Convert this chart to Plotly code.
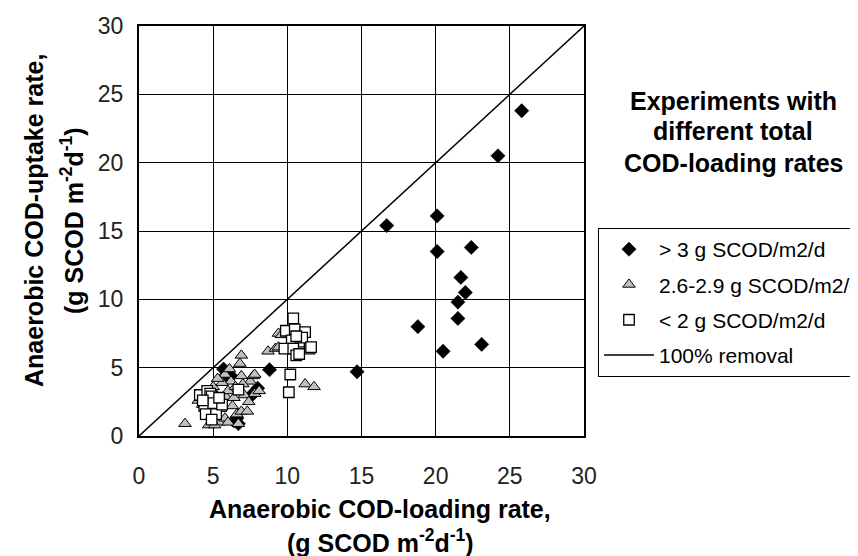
import plotly.graph_objects as go

# Series > 3 g SCOD/m2/d (black diamonds)
hi_x = [25.8, 24.2, 20.1, 16.7, 20.1, 22.4, 21.7, 22.0, 21.5, 21.5, 18.8, 23.1, 20.5, 14.7,
        5.7, 6.2, 7.8, 8.0, 7.6, 6.4, 6.7, 6.6, 8.8, 5.9]
hi_y = [23.8, 20.5, 16.1, 15.4, 13.5, 13.8, 11.6, 10.5, 9.8, 8.6, 8.0, 6.7, 6.2, 4.7,
        4.9, 4.4, 3.2, 3.5, 3.0, 1.1, 0.9, 1.3, 4.85, 4.5]

# Series 2.6-2.9 g SCOD/m2/d (grey triangles)
mid_x = [3.1, 4.3, 4.6, 4.7, 5.0, 5.4, 5.5, 5.8, 5.8, 5.9, 6.0, 6.1, 6.2, 6.3, 6.5, 6.6,
         6.9, 6.8, 6.9, 6.9, 7.1, 7.3, 7.4, 7.5, 7.7, 7.8, 7.8, 5.2, 5.6, 4.8, 4.5, 6.4,
         7.0, 5.3, 6.0, 5.0, 8.7, 9.2, 9.4, 9.6, 9.4, 11.2, 11.8, 4.0, 5.1, 6.7, 4.5, 8.1]
mid_y = [0.9, 2.3, 1.4, 0.8, 3.6, 1.0, 2.0, 4.5, 1.3, 2.8, 3.3, 4.9, 4.0, 2.2, 3.6, 1.6,
         5.9, 5.3, 4.4, 1.8, 3.0, 1.8, 2.5, 4.0, 4.4, 4.5, 3.1, 3.0, 3.9, 2.6, 3.2, 2.8,
         3.8, 4.2, 1.0, 1.8, 6.2, 6.4, 7.5, 7.4, 6.5, 3.8, 3.6, 2.6, 0.8, 0.9, 2.0, 3.3]

# Series < 2 g SCOD/m2/d (white squares)
lo_x = [4.1, 4.6, 4.8, 4.9, 4.4, 5.0, 4.5, 5.2, 4.9, 5.6, 6.7, 5.4, 4.3,
        10.4, 9.9, 10.5, 11.2, 10.3, 10.9, 9.8, 10.4, 10.6, 11.5, 10.2, 10.1, 11.0, 11.6, 10.8, 10.6]
lo_y = [3.0, 3.3, 3.1, 2.9, 2.2, 2.4, 1.6, 1.6, 1.2, 2.3, 3.4, 2.8, 2.6,
        8.6, 7.7, 7.8, 7.6, 7.0, 6.9, 6.4, 6.4, 5.9, 6.4, 4.5, 3.2, 7.2, 6.5, 6.0, 7.3]

# 100% removal line
line_x = [0, 30]
line_y = [0, 30]

tick_vals = [0, 5, 10, 15, 20, 25, 30]

FONT = "Liberation Sans, Arial, sans-serif"

fig = go.Figure()
fig.add_trace(go.Scatter(x=hi_x, y=hi_y, mode="markers", name="> 3 g SCOD/m2/d",
                         legendgroup="a",
                         marker=dict(symbol="diamond", size=11, color="black",
                                     line=dict(color="black", width=0.5))))
fig.add_trace(go.Scatter(x=mid_x, y=mid_y, mode="markers", name="2.6-2.9 g SCOD/m2/d",
                         legendgroup="b",
                         marker=dict(symbol="triangle-up", size=11, color="#c0c0c0",
                                     line=dict(color="black", width=1))))
fig.add_trace(go.Scatter(x=lo_x, y=lo_y, mode="markers", name="< 2 g SCOD/m2/d",
                         legendgroup="c",
                         marker=dict(symbol="square", size=10.5, color="white",
                                     line=dict(color="black", width=1.3))))
fig.add_trace(go.Scatter(x=line_x, y=line_y, mode="lines", name="100% removal",
                         legendgroup="d",
                         line=dict(color="black", width=1.5)))

L, R, T, B = 131, 282, 18, 128
W, H = 858, 556
pw = W - L - R
ph = H - T - B

axis_common = dict(range=[0, 30], tickvals=tick_vals, showgrid=True, gridcolor="black",
                   gridwidth=1, showline=True, linecolor="black", linewidth=2, mirror=True,
                   zeroline=False, ticks="", tickfont=dict(family=FONT, size=23, color="#222"))

fig.update_layout(
    width=W, height=H,
    margin=dict(l=L, r=R, t=T, b=B, autoexpand=False),
    paper_bgcolor="white", plot_bgcolor="white",
    font=dict(family=FONT, color="black"),
    xaxis=dict(**axis_common, ticklabelstandoff=18),
    yaxis=dict(**axis_common, ticklabelstandoff=9),
    legend=dict(x=(590 - L) / pw, y=(428 - 220) / ph, xanchor="left", yanchor="top",
                bordercolor="black", borderwidth=1, bgcolor="white",
                font=dict(family=FONT, size=21, color="black"),
                tracegroupgap=5, itemwidth=50),
    showlegend=True,
)

TF = 25
# axis titles as annotations
fig.add_annotation(xref="paper", yref="paper", x=(372 - L) / pw, y=(428 - 501) / ph,
                   text="<b>Anaerobic COD-loading rate,</b>", showarrow=False,
                   font=dict(family=FONT, size=TF, color="black"), xanchor="center", yanchor="middle")
fig.add_annotation(xref="paper", yref="paper", x=(372 - L) / pw, y=(428 - 533) / ph,
                   text="<b>(g SCOD m<sup>-2</sup>d<sup>-1</sup>)</b>", showarrow=False,
                   font=dict(family=FONT, size=TF, color="black"), xanchor="center", yanchor="middle")
fig.add_annotation(xref="paper", yref="paper", x=(26 - L) / pw, y=(428 - 213) / ph,
                   text="<b>Anaerobic COD-uptake rate,</b>", showarrow=False, textangle=-90,
                   font=dict(family=FONT, size=TF, color="black"), xanchor="center", yanchor="middle")
fig.add_annotation(xref="paper", yref="paper", x=(64 - L) / pw, y=(428 - 213) / ph,
                   text="<b>(g SCOD m<sup>-2</sup>d<sup>-1</sup>)</b>", showarrow=False, textangle=-90,
                   font=dict(family=FONT, size=TF, color="black"), xanchor="center", yanchor="middle")

# legend heading
for txt, ypx in [("Experiments with", 93), ("different total", 123), ("COD-loading rates", 155)]:
    fig.add_annotation(xref="paper", yref="paper", x=(725 - L) / pw, y=(428 - ypx) / ph,
                       text="<b>" + txt + "</b>", showarrow=False,
                       font=dict(family=FONT, size=25, color="black"),
                       xanchor="center", yanchor="middle")

fig.write_html("out.html")
